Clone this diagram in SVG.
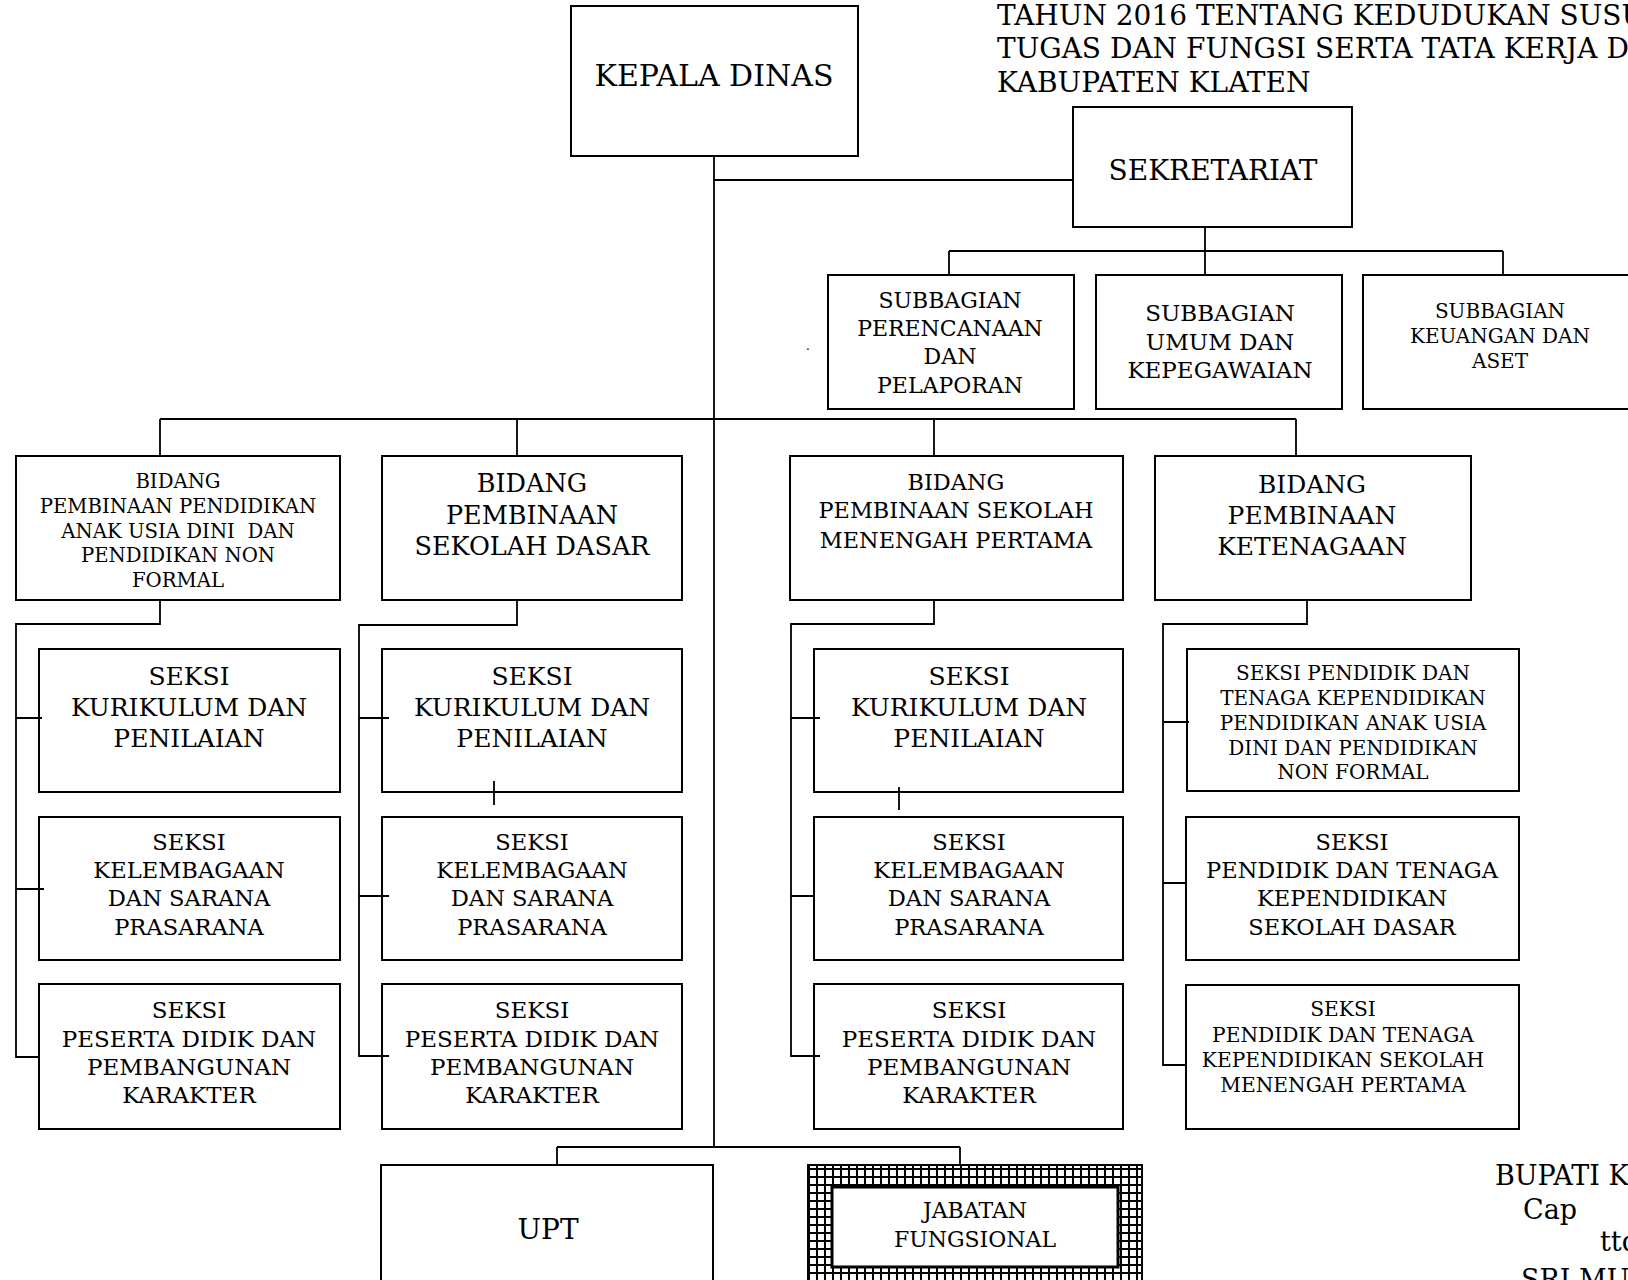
<svg xmlns="http://www.w3.org/2000/svg" width="1628" height="1280" viewBox="0 0 1628 1280">
<style>
.box{fill:#fff;stroke:#000;stroke-width:2}
.ln{fill:none;stroke:#000;stroke-width:1.8}
text{font-family:"DejaVu Serif","Liberation Serif",serif;fill:#000}
.c{text-anchor:middle}
</style>
<defs>
<pattern id="grid" width="8" height="8" patternUnits="userSpaceOnUse">
<rect width="8" height="8" fill="#fff"/>
<path d="M0 1H8M1 0V8" stroke="#000" stroke-width="2"/>
</pattern>
</defs>
<rect width="1628" height="1280" fill="#fff"/>

<g id="title" font-size="28">
<text x="997" y="25">TAHUN 2016 TENTANG KEDUDUKAN SUSU</text>
<text x="997" y="58">TUGAS DAN FUNGSI SERTA TATA KERJA D</text>
<text x="997" y="92">KABUPATEN KLATEN</text>
</g>

<g id="kepala">
<rect class="box" x="571" y="6" width="287" height="150"/>
<text class="c" x="714" y="86" font-size="30">KEPALA DINAS</text>
</g>
<g id="sekretariat">
<rect class="box" x="1073" y="107" width="279" height="120"/>
<text class="c" x="1213" y="180" font-size="28">SEKRETARIAT</text>
</g>
<g id="sub-perencanaan">
<rect class="box" x="828" y="275" width="246" height="134"/>
<text class="c" font-size="22"><tspan x="950" y="308">SUBBAGIAN</tspan><tspan x="950" y="336">PERENCANAAN</tspan><tspan x="950" y="364">DAN</tspan><tspan x="950" y="393">PELAPORAN</tspan></text>
</g>
<text x="806" y="350" font-size="12">.</text>
<g id="sub-umum">
<rect class="box" x="1096" y="275" width="246" height="134"/>
<text class="c" font-size="23"><tspan x="1220" y="321">SUBBAGIAN</tspan><tspan x="1220" y="350">UMUM DAN</tspan><tspan x="1220" y="378">KEPEGAWAIAN</tspan></text>
</g>
<g id="sub-keuangan">
<rect class="box" x="1363" y="275" width="280" height="134"/>
<text class="c" font-size="20"><tspan x="1500" y="318">SUBBAGIAN</tspan><tspan x="1500" y="343">KEUANGAN DAN</tspan><tspan x="1500" y="368">ASET</tspan></text>
</g>

<g id="bidang-paud">
<rect class="box" x="16" y="456" width="324" height="144"/>
<text class="c" font-size="19.7"><tspan x="178" y="488">BIDANG</tspan><tspan x="178" y="513">PEMBINAAN PENDIDIKAN</tspan><tspan x="178" y="538" xml:space="preserve">ANAK USIA DINI  DAN</tspan><tspan x="178" y="562">PENDIDIKAN NON</tspan><tspan x="178" y="587">FORMAL</tspan></text>
</g>
<g id="bidang-sd">
<rect class="box" x="382" y="456" width="300" height="144"/>
<text class="c" font-size="25.5"><tspan x="532" y="492">BIDANG</tspan><tspan x="532" y="524">PEMBINAAN</tspan><tspan x="532" y="555">SEKOLAH DASAR</tspan></text>
</g>
<g id="bidang-smp">
<rect class="box" x="790" y="456" width="333" height="144"/>
<text class="c" font-size="22.4"><tspan x="956" y="490">BIDANG</tspan><tspan x="956" y="518">PEMBINAAN SEKOLAH</tspan><tspan x="956" y="548">MENENGAH PERTAMA</tspan></text>
</g>
<g id="bidang-ketenagaan">
<rect class="box" x="1155" y="456" width="316" height="144"/>
<text class="c" font-size="25"><tspan x="1312" y="493">BIDANG</tspan><tspan x="1312" y="524">PEMBINAAN</tspan><tspan x="1312" y="555">KETENAGAAN</tspan></text>
</g>

<g id="c1-kurikulum">
<rect class="box" x="39" y="649" width="301" height="143"/>
<text class="c" font-size="25"><tspan x="189" y="685">SEKSI</tspan><tspan x="189" y="716">KURIKULUM DAN</tspan><tspan x="189" y="747">PENILAIAN</tspan></text>
</g>
<g id="c1-kelembagaan">
<rect class="box" x="39" y="817" width="301" height="143"/>
<text class="c" font-size="22.6"><tspan x="189" y="850">SEKSI</tspan><tspan x="189" y="878">KELEMBAGAAN</tspan><tspan x="189" y="906">DAN SARANA</tspan><tspan x="189" y="935">PRASARANA</tspan></text>
</g>
<g id="c1-peserta">
<rect class="box" x="39" y="984" width="301" height="145"/>
<text class="c" font-size="23"><tspan x="189" y="1018">SEKSI</tspan><tspan x="189" y="1047">PESERTA DIDIK DAN</tspan><tspan x="189" y="1075">PEMBANGUNAN</tspan><tspan x="189" y="1103">KARAKTER</tspan></text>
</g>

<g id="c2-kurikulum">
<rect class="box" x="382" y="649" width="300" height="143"/>
<text class="c" font-size="25"><tspan x="532" y="685">SEKSI</tspan><tspan x="532" y="716">KURIKULUM DAN</tspan><tspan x="532" y="747">PENILAIAN</tspan></text>
</g>
<g id="c2-kelembagaan">
<rect class="box" x="382" y="817" width="300" height="143"/>
<text class="c" font-size="22.6"><tspan x="532" y="850">SEKSI</tspan><tspan x="532" y="878">KELEMBAGAAN</tspan><tspan x="532" y="906">DAN SARANA</tspan><tspan x="532" y="935">PRASARANA</tspan></text>
</g>
<g id="c2-peserta">
<rect class="box" x="382" y="984" width="300" height="145"/>
<text class="c" font-size="23"><tspan x="532" y="1018">SEKSI</tspan><tspan x="532" y="1047">PESERTA DIDIK DAN</tspan><tspan x="532" y="1075">PEMBANGUNAN</tspan><tspan x="532" y="1103">KARAKTER</tspan></text>
</g>

<g id="c3-kurikulum">
<rect class="box" x="814" y="649" width="309" height="143"/>
<text class="c" font-size="25"><tspan x="969" y="685">SEKSI</tspan><tspan x="969" y="716">KURIKULUM DAN</tspan><tspan x="969" y="747">PENILAIAN</tspan></text>
</g>
<g id="c3-kelembagaan">
<rect class="box" x="814" y="817" width="309" height="143"/>
<text class="c" font-size="22.6"><tspan x="969" y="850">SEKSI</tspan><tspan x="969" y="878">KELEMBAGAAN</tspan><tspan x="969" y="906">DAN SARANA</tspan><tspan x="969" y="935">PRASARANA</tspan></text>
</g>
<g id="c3-peserta">
<rect class="box" x="814" y="984" width="309" height="145"/>
<text class="c" font-size="23"><tspan x="969" y="1018">SEKSI</tspan><tspan x="969" y="1047">PESERTA DIDIK DAN</tspan><tspan x="969" y="1075">PEMBANGUNAN</tspan><tspan x="969" y="1103">KARAKTER</tspan></text>
</g>

<g id="c4-paud">
<rect class="box" x="1187" y="649" width="332" height="142"/>
<text class="c" font-size="20"><tspan x="1353" y="680">SEKSI PENDIDIK DAN</tspan><tspan x="1353" y="705">TENAGA KEPENDIDIKAN</tspan><tspan x="1353" y="730">PENDIDIKAN ANAK USIA</tspan><tspan x="1353" y="755">DINI DAN PENDIDIKAN</tspan><tspan x="1353" y="779">NON FORMAL</tspan></text>
</g>
<g id="c4-sd">
<rect class="box" x="1186" y="817" width="333" height="143"/>
<text class="c" font-size="22.5"><tspan x="1352" y="850">SEKSI</tspan><tspan x="1352" y="878">PENDIDIK DAN TENAGA</tspan><tspan x="1352" y="906">KEPENDIDIKAN</tspan><tspan x="1352" y="935">SEKOLAH DASAR</tspan></text>
</g>
<g id="c4-smp">
<rect class="box" x="1186" y="985" width="333" height="144"/>
<text class="c" font-size="20.2"><tspan x="1343" y="1016">SEKSI</tspan><tspan x="1343" y="1042">PENDIDIK DAN TENAGA</tspan><tspan x="1343" y="1067">KEPENDIDIKAN SEKOLAH</tspan><tspan x="1343" y="1092">MENENGAH PERTAMA</tspan></text>
</g>

<g id="upt">
<rect class="box" x="381" y="1165" width="332" height="130"/>
<text class="c" x="548" y="1239" font-size="28">UPT</text>
</g>
<g id="jabatan">
<rect x="808" y="1165" width="334" height="130" fill="url(#grid)" stroke="#000" stroke-width="2"/>
<rect x="832" y="1187" width="286" height="80" fill="#fff" stroke="#000" stroke-width="3"/>
<text class="c" font-size="22"><tspan x="975" y="1218">JABATAN</tspan><tspan x="975" y="1247">FUNGSIONAL</tspan></text>
</g>

<g id="connectors">
<path class="ln" d="M714 156V1147M714 180H1073"/>
<path class="ln" d="M1205 227V275M949 251H1503M949 251V275M1503 251V275"/>
<path class="ln" d="M160 419H1296M160 419V456M517 419V456M934 419V456M1296 419V456"/>
<path class="ln" d="M160 600V624H16V1057H39M16 718H42M16 889H44"/>
<path class="ln" d="M517 600V625H359V1056H389M359 718H389M359 896H389M494 781V805"/>
<path class="ln" d="M934 600V624H791V1056H820M791 718H820M791 896H815M899 787V810"/>
<path class="ln" d="M1307 600V624H1163V1065H1187M1163 722H1189M1163 883H1186"/>
<path class="ln" d="M557 1147H960M557 1147V1165M960 1147V1165"/>
</g>

<g id="signature" font-size="27">
<text x="1495" y="1185">BUPATI K</text>
<text x="1523" y="1219">Cap</text>
<text x="1600" y="1251">ttd</text>
<text x="1521" y="1289">SRI MU</text>
</g>
</svg>
